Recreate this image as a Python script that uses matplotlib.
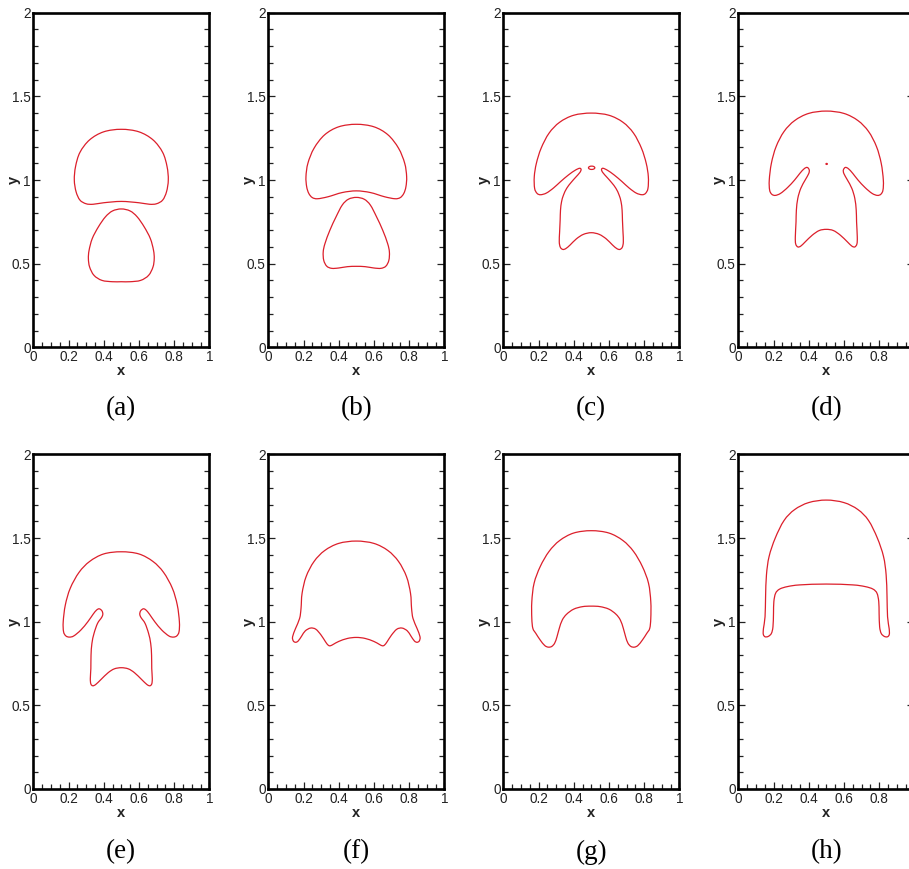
import numpy as np
import matplotlib.pyplot as plt
from matplotlib.path import Path
from matplotlib.patches import PathPatch, Ellipse
from matplotlib.ticker import MultipleLocator, FuncFormatter

# Interface contours, right half of each (x >= 0.5), listed from the top
# centre-line point down to the bottom centre-line point. Left half is the mirror.
a_upper = [(0.5, 1.303), (0.6, 1.288), (0.68, 1.240), (0.735, 1.165), (0.760, 1.080),
           (0.767, 1.000), (0.757, 0.930), (0.735, 0.880), (0.700, 0.858), (0.660, 0.855),
           (0.600, 0.864), (0.5, 0.872)]
a_lower = [(0.5, 0.827), (0.55, 0.815), (0.59, 0.780), (0.63, 0.720), (0.665, 0.650),
           (0.683, 0.580), (0.687, 0.530), (0.680, 0.480), (0.655, 0.430), (0.610, 0.400),
           (0.55, 0.392), (0.5, 0.392)]

b_upper = [(0.5, 1.333), (0.6, 1.318), (0.68, 1.270), (0.74, 1.190), (0.775, 1.100),
           (0.786, 1.020), (0.782, 0.960), (0.770, 0.920), (0.750, 0.895), (0.720, 0.888),
           (0.660, 0.900), (0.580, 0.925), (0.5, 0.935)]
b_lower = [(0.5, 0.896), (0.545, 0.885), (0.58, 0.850), (0.615, 0.780), (0.650, 0.700),
           (0.678, 0.620), (0.688, 0.570), (0.685, 0.520), (0.668, 0.485), (0.640, 0.472),
           (0.600, 0.474), (0.550, 0.482), (0.5, 0.484)]

c_main = [(0.5, 1.400), (0.6, 1.387), (0.68, 1.345), (0.74, 1.280), (0.785, 1.190),
          (0.812, 1.100), (0.824, 1.020), (0.822, 0.950), (0.808, 0.920), (0.788, 0.912),
          (0.755, 0.922), (0.715, 0.952), (0.675, 0.990), (0.630, 1.030), (0.592, 1.058),
          (0.567, 1.070), (0.558, 1.063), (0.565, 1.045), (0.590, 1.015), (0.615, 0.985),
          (0.640, 0.950), (0.658, 0.910), (0.669, 0.870), (0.675, 0.820), (0.677, 0.760),
          (0.680, 0.690), (0.682, 0.630), (0.676, 0.598), (0.662, 0.585), (0.645, 0.590),
          (0.620, 0.612), (0.585, 0.648), (0.545, 0.675), (0.5, 0.685)]
c_drop = (0.502, 1.073, 0.036, 0.020)

d_main = [(0.5, 1.412), (0.6, 1.398), (0.68, 1.355), (0.74, 1.290), (0.785, 1.200),
          (0.812, 1.100), (0.824, 1.000), (0.822, 0.940), (0.810, 0.915), (0.790, 0.908),
          (0.760, 0.920), (0.720, 0.955), (0.680, 1.000), (0.650, 1.040), (0.625, 1.068),
          (0.608, 1.075), (0.597, 1.060), (0.600, 1.038), (0.620, 1.000), (0.645, 0.950),
          (0.662, 0.890), (0.670, 0.820), (0.672, 0.750), (0.676, 0.660), (0.674, 0.618),
          (0.662, 0.600), (0.645, 0.605), (0.620, 0.630), (0.580, 0.670), (0.540, 0.698),
          (0.5, 0.705)]
d_drop = (0.502, 1.096, 0.008, 0.006)

e_main = [(0.5, 1.418), (0.6, 1.405), (0.68, 1.360), (0.74, 1.295), (0.790, 1.200),
          (0.818, 1.100), (0.830, 1.000), (0.828, 0.940), (0.815, 0.915), (0.795, 0.908),
          (0.770, 0.915), (0.730, 0.950), (0.690, 1.000), (0.660, 1.045), (0.640, 1.070),
          (0.625, 1.077), (0.610, 1.065), (0.605, 1.045), (0.612, 1.025), (0.635, 0.990),
          (0.655, 0.930), (0.667, 0.870), (0.672, 0.800), (0.673, 0.720), (0.676, 0.660),
          (0.673, 0.628), (0.662, 0.617), (0.645, 0.625), (0.615, 0.655), (0.575, 0.695),
          (0.540, 0.718), (0.5, 0.725)]

f_main = [(0.5, 1.482), (0.6, 1.468), (0.68, 1.425), (0.74, 1.360), (0.785, 1.270),
          (0.808, 1.170), (0.814, 1.080), (0.822, 1.020), (0.845, 0.960), (0.862, 0.910),
          (0.858, 0.885), (0.845, 0.877), (0.830, 0.885), (0.810, 0.915), (0.790, 0.945),
          (0.760, 0.962), (0.730, 0.955), (0.700, 0.920), (0.675, 0.880), (0.660, 0.860),
          (0.648, 0.856), (0.630, 0.865), (0.600, 0.882), (0.550, 0.900), (0.5, 0.906)]

g_main = [(0.5, 1.544), (0.6, 1.530), (0.68, 1.485), (0.74, 1.420), (0.790, 1.330),
          (0.825, 1.230), (0.838, 1.120), (0.838, 1.020), (0.832, 0.960), (0.815, 0.930),
          (0.790, 0.890), (0.765, 0.858), (0.745, 0.848), (0.725, 0.852), (0.708, 0.872),
          (0.695, 0.910), (0.682, 0.960), (0.665, 1.010), (0.640, 1.045), (0.600, 1.075),
          (0.550, 1.090), (0.5, 1.093)]

h_main = [(0.5, 1.727), (0.6, 1.712), (0.68, 1.670), (0.74, 1.605), (0.790, 1.500),
          (0.825, 1.390), (0.840, 1.280), (0.845, 1.150), (0.848, 1.030), (0.857, 0.960),
          (0.858, 0.925), (0.848, 0.910), (0.830, 0.912), (0.812, 0.930), (0.803, 0.970),
          (0.800, 1.050), (0.798, 1.120), (0.788, 1.170), (0.765, 1.195), (0.720, 1.210),
          (0.650, 1.220), (0.5, 1.225)]

panel_shapes = [[a_upper, a_lower], [b_upper, b_lower], [c_main], [d_main],
                [e_main], [f_main], [g_main], [h_main]]
panel_drops = [None, None, c_drop, d_drop, None, None, None, None]
panel_labels = ['(a)', '(b)', '(c)', '(d)', '(e)', '(f)', '(g)', '(h)']

line_color = '#dc1f2b'


def closed_outline(half):
    half = np.asarray(half, dtype=float)
    left = half[-2:0:-1].copy()
    left[:, 0] = 1.0 - left[:, 0]
    return np.vstack([half, left])


def smooth_path(pts):
    # closed Catmull-Rom curve through the points, as cubic Bezier segments
    n = len(pts)
    verts = [pts[0]]
    codes = [Path.MOVETO]
    for i in range(n):
        p0, p1 = pts[i - 1], pts[i]
        p2, p3 = pts[(i + 1) % n], pts[(i + 2) % n]
        verts += [p1 + (p2 - p0) / 6.0, p2 - (p3 - p1) / 6.0, p2]
        codes += [Path.CURVE4] * 3
    return Path(verts, codes)


plt.rcParams['font.family'] = ['Liberation Sans', 'DejaVu Sans']

fig = plt.figure(figsize=(9.09, 8.69), dpi=100)
W, H = 909.0, 869.0
lefts = [33.3, 268.3, 503.3, 738.3]
bottoms = [347.3, 789.0]
aw, ah = 176.0, 334.6


def fmt_x(v, p, cut=False):
    if cut and v > 0.95:
        return ''
    return '%g' % v


for k in range(8):
    row, col = divmod(k, 4)
    ax = fig.add_axes([lefts[col] / W, 1 - bottoms[row] / H, aw / W, ah / H])
    ax.set_xlim(0, 1)
    ax.set_ylim(0, 2)
    ax.xaxis.set_major_locator(MultipleLocator(0.2))
    ax.xaxis.set_minor_locator(MultipleLocator(0.05))
    ax.yaxis.set_major_locator(MultipleLocator(0.5))
    ax.yaxis.set_minor_locator(MultipleLocator(0.1))
    # the last column runs past the figure edge, so its x = 1 label is not shown
    cut = (col == 3)
    ax.xaxis.set_major_formatter(FuncFormatter(lambda v, p, c=cut: fmt_x(v, p, c)))
    ax.yaxis.set_major_formatter(FuncFormatter(lambda v, p: '%g' % v))
    ax.tick_params(which='both', direction='in', top=False, right=True,
                   labelsize=9.8, pad=2, colors='#222222', width=0.9)
    ax.tick_params(which='major', length=5)
    ax.tick_params(which='minor', length=3.5)
    for s in ax.spines.values():
        s.set_linewidth(1.9)
    ax.set_xlabel('x', fontsize=10.5, fontweight='bold', color='#222222')
    ax.set_ylabel('y', fontsize=10.5, fontweight='bold', color='#222222')
    ax.xaxis.set_label_coords(0.5, -0.05)
    ax.yaxis.set_label_coords(-0.07, 0.5)

    for half in panel_shapes[k]:
        ax.add_patch(PathPatch(smooth_path(closed_outline(half)), fill=False,
                               edgecolor=line_color, lw=0.9))
    if panel_drops[k] is not None:
        cx, cy, w, h = panel_drops[k]
        ax.add_patch(Ellipse((cx, cy), w, h, fill=False, edgecolor=line_color, lw=0.9))

    cap_y = 409 if row == 0 else 852
    fig.text((lefts[col] + aw / 2) / W, 1 - cap_y / H, panel_labels[k],
             ha='center', va='center', fontsize=19.5, family='Liberation Serif')

fig.savefig('out.png', dpi=100)
